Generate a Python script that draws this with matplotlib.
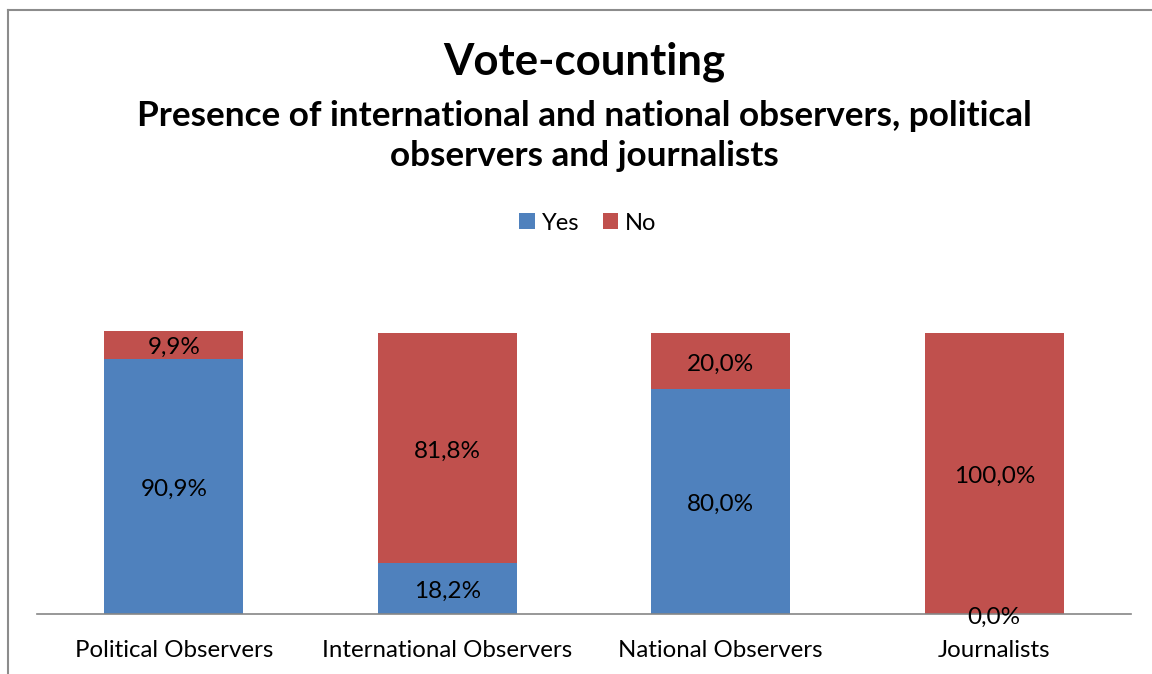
import matplotlib.pyplot as plt

categories = ["Political Observers", "International Observers", "National Observers", "Journalists"]
yes = [0.909, 0.182, 0.800, 0.0]
no = [0.099, 0.818, 0.200, 1.0]
yes_labels = ["90,9%", "18,2%", "80,0%", "0,0%"]
no_labels = ["9,9%", "81,8%", "20,0%", "100,0%"]

plt.rcParams["font.family"] = ["Lato", "DejaVu Sans"]
blue = "#4F81BD"
red = "#C0504D"

W, H = 1152, 674
fig = plt.figure(figsize=(W / 100, H / 100), dpi=100)

# chart frame (cropped on right and bottom)
fig.add_artist(plt.Line2D([8 / W, 8 / W], [0, 1 - 10 / H], color="#8c8c8c", lw=1.5))
fig.add_artist(plt.Line2D([8 / W, 1], [1 - 10 / H, 1 - 10 / H], color="#8c8c8c", lw=1.5))

# axes: x 37..1131, baseline at y=614, 100% at y=333
top_val = 1.2
ax_h = 281 * top_val
ax = fig.add_axes([37 / W, (H - 614) / H, (1131 - 37) / W, ax_h / H])

x = range(len(categories))
ax.bar(x, yes, width=0.51, color=blue, label="Yes")
ax.bar(x, no, width=0.51, bottom=yes, color=red, label="No")

for i in x:
    ax.annotate(yes_labels[i], (i, yes[i] / 2), xytext=(0, -3), textcoords="offset pixels",
                ha="center", va="center", fontsize=17.5, color="black")
    ax.annotate(no_labels[i], (i, yes[i] + no[i] / 2), xytext=(0, -3), textcoords="offset pixels",
                ha="center", va="center", fontsize=17.5, color="black")

ax.set_xlim(-0.5, 3.5)
ax.set_ylim(0, top_val)
ax.set_xticks(list(x))
ax.set_xticklabels(categories, fontsize=17.3)
ax.tick_params(axis="x", length=0, pad=19)
ax.set_yticks([])
for s in ["top", "right", "left"]:
    ax.spines[s].set_visible(False)
ax.spines["bottom"].set_color("#868686")
ax.spines["bottom"].set_linewidth(1.2)

fig.text(584 / W, 1 - 62 / H, "Vote-counting", ha="center", va="center", fontsize=31.5, fontweight="bold")
fig.text(584 / W, 1 - 136 / H, "Presence of international and national observers, political\nobservers and journalists",
         ha="center", va="center", fontsize=25.3, fontweight="bold", linespacing=1.32)

fig.legend(loc="center", bbox_to_anchor=(588 / W, 1 - 223 / H), ncol=2, frameon=False, fontsize=17,
           handlelength=0.65, handleheight=0.65, handletextpad=0.3, columnspacing=1.0)

fig.savefig("out.png", dpi=100)
